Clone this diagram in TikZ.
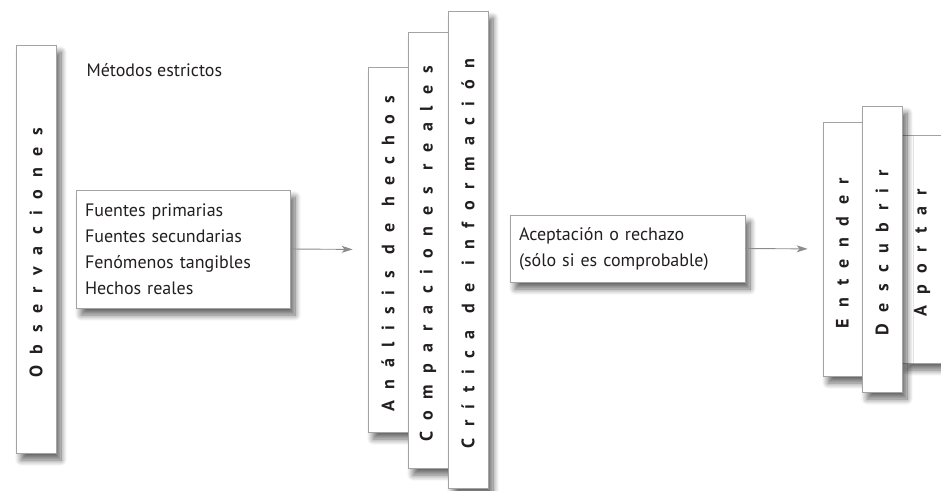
\documentclass[tikz,border=0pt]{standalone}
\usepackage{fontspec}
\setmainfont{PT Sans}
\newfontfamily\barfont{PT Sans Bold}[LetterSpace=64]
\usepackage{graphicx}
\usepackage{xcolor}
\definecolor{edge}{HTML}{A3A3A3}
\definecolor{arrowgray}{HTML}{8C8C8C}
\definecolor{textdark}{HTML}{231F20}
\usetikzlibrary{arrows.meta, positioning, shadows.blur}

\begin{document}
\begin{tikzpicture}[
  x=1pt, y=-1pt,
  every node/.style={font=\fontsize{18}{26}\selectfont, text=textdark},
  bar/.style={draw=edge, line width=0.8pt, fill=white, inner sep=0pt,
              minimum width=40pt,
              blur shadow={shadow xshift=5pt, shadow yshift=-7pt,
                           shadow blur radius=6pt, shadow opacity=60,
                           shadow blur steps=10}},
  infobox/.style={bar, anchor=center, align=left, inner xsep=9pt},
  flecha/.style={draw=arrowgray, line width=0.9pt,
                 -{Stealth[length=11pt, width=7pt, inset=3pt]}, shorten >=15pt}
]
  \useasboundingbox (0,0) rectangle (941,490);
  \clip (0,0) rectangle (941,490);

  \newcommand{\bartext}[1]{\rotatebox{90}{\barfont\fontsize{18}{20}\selectfont #1\hspace{8pt}}}
  \newcommand{\wgap}{\hspace{17pt}}

  % first group
  \node[bar, minimum height=408pt] (obs) at (36,249) {\bartext{Observaciones}};
  \node[anchor=base west] (metodos) at (83,76) {Métodos estrictos};
  \node[infobox, text width=196pt, minimum height=118pt] (fuentes) at (183,249) {%
    Fuentes primarias\\
    Fuentes secundarias\\
    Fenómenos tangibles\\
    Hechos reales};

  % second group
  \node[bar, minimum height=365pt] (analisis) at (388,249.5) {\bartext{Análisis\wgap de\wgap hechos}};
  \node[bar, minimum height=436pt] (compara) at (428,250) {\bartext{Comparaciones\wgap reales}};
  \node[bar, minimum height=477pt] (critica) at (468,249.5) {\bartext{Crítica\wgap de\wgap información}};
  \node[infobox, text width=217pt, minimum height=67pt] (acepta) at (627.5,248.5) {%
    Aceptación o rechazo\\
    (sólo si es comprobable)};

  % third group
  \node[bar, minimum height=254pt, minimum width=39pt] (entender) at (842.5,249) {\bartext{Entender}};
  \node[bar, minimum height=228pt] (aportar) at (922,249) {\bartext{Aportar}};
  \node[bar, minimum height=286pt] (descubrir) at (882,249) {\bartext{Descubrir}};

  \draw[flecha] (fuentes.east) -- (analisis.west);
  \draw[flecha] (acepta.east) -- (entender.west);
\end{tikzpicture}
\end{document}
